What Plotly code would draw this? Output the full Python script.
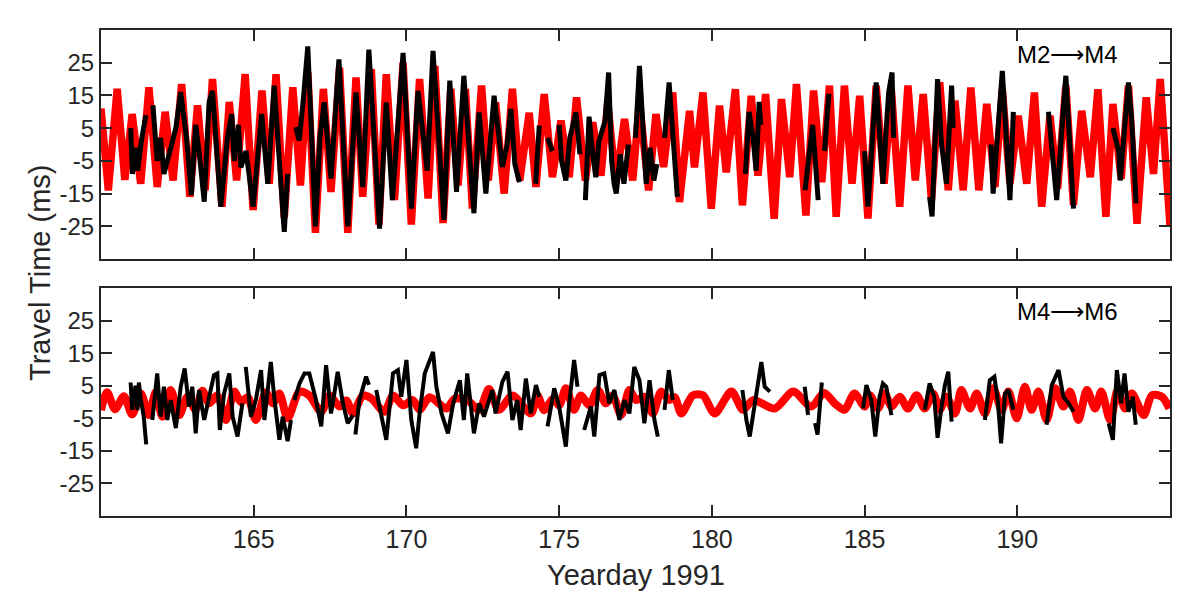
import plotly.graph_objects as go

FONT = "Liberation Sans, Arial, Helvetica, sans-serif"
INK = "#262626"
RED = "#ff0000"

# ---- M2 -> M4 : predicted (red) travel time ----
red_top_t = [160.0, 160.24, 160.53, 160.78, 161.02, 161.30, 161.57, 161.84, 162.10, 162.36,
             162.64, 162.91, 163.16, 163.41, 163.65, 163.96, 164.20, 164.44, 164.72, 164.98,
             165.27, 165.51, 165.73, 166.00, 166.28, 166.53, 166.77, 167.02, 167.28, 167.53,
             167.81, 168.08, 168.35, 168.57, 168.85, 169.10, 169.34, 169.61, 169.89, 170.16,
             170.43, 170.71, 170.93, 171.20, 171.45, 171.69, 171.93, 172.16, 172.46, 172.68,
             172.92, 173.20, 173.47, 173.71, 174.02, 174.24, 174.51, 174.78, 175.06, 175.33,
             175.57, 175.86, 176.10, 176.37, 176.59, 176.86, 177.14, 177.41, 177.63, 177.93,
             178.17, 178.42, 178.72, 178.94, 179.27, 179.43, 179.71, 179.98, 180.25, 180.47,
             180.77, 181.00, 181.29, 181.51, 181.76, 182.04, 182.28, 182.55, 182.77, 183.08,
             183.33, 183.60, 183.85, 184.07, 184.34, 184.59, 184.84, 185.11, 185.38, 185.64,
             185.88, 186.15, 186.42, 186.66, 186.92, 187.19, 187.46, 187.74, 187.96, 188.23,
             188.48, 188.74, 189.00, 189.27, 189.51, 189.76, 190.03, 190.31, 190.56, 190.80,
             191.07, 191.32, 191.59, 191.84, 192.11, 192.39, 192.64, 192.90, 193.13, 193.40,
             193.64, 193.92, 194.22, 194.46, 194.68, 195.0]
red_top_v = [11, -14, 17, -10.8, 9.3, -12, 17.5, -13, 10, -11,
             18.5, -16, 12, -14, 20, -19, 13, -11, 21.5, -20,
             16.5, -12, 21.5, -22.5, 17.5, -12.5, 22, -27, 17, -14.5,
             23.5, -27, 20.5, -16, 23, -24.5, 21.5, -17, 25, -24.5,
             20, -16.5, 24, -24, 17, -12.5, 17, -19.6, 18, -11,
             12.9, -15, 17, -11, 9.7, -13, 15.4, -10, 7.3, -10,
             14.4, -11, 6.8, -9.5, 12.9, -12, 7.8, -11, 12.9, -14,
             9.3, -6.9, 15.9, -17.6, 10.3, -7, 15.9, -19.6, 11.9, -8.5,
             16.9, -18.6, 14.9, -9.5, 15.4, -22.7, 13.9, -10, 18.5, -21.7,
             16.5, -11.5, 18, -22.1, 18, -12, 14.9, -22.6, 18, -12,
             16.4, -19, 18, -11, 15.4, -17, 19, -14, 13.4, -14,
             17.4, -14, 12.4, -13, 16.9, -12, 8.8, -12, 15.9, -19,
             8.8, -13.5, 18, -18.5, 10.3, -10, 16.9, -22.1, 12.4, -10.5,
             18, -24.2, 14.4, -9, 20, -25]

# measured (black) travel times, one list of (day, ms) pairs per record
black_top = [
    [(160.97, 5), (161.03, -9), (161.12, -1), (161.2, -8), (161.32, 1), (161.47, 9)],
    [(161.70, 12), (161.84, -5), (161.95, 2), (162.06, -9), (162.23, -3), (162.45, 5),
     (162.61, 16), (162.80, 2), (162.96, -15.5), (163.10, 6), (163.21, -2), (163.38, -17.5),
     (163.54, 13), (163.65, 16.4), (163.92, -19), (164.14, 2), (164.28, 9.3), (164.36, -5),
     (164.50, 6), (164.58, -7), (164.75, -2), (164.98, -19), (165.26, 9.3), (165.46, -12),
     (165.67, 18), (166.0, -26.7), (166.11, -9)],
    [(166.38, 5.3), (166.49, 1.2), (166.63, 14.4), (166.77, 30), (167.02, -25), (167.17, 2.2),
     (167.31, 12.9), (167.53, -10.4), (167.79, 26), (168.08, -25), (168.35, 15.9), (168.57, -13),
     (168.77, 29), (169.12, -25.7), (169.34, 12.9), (169.54, -17), (169.89, 28), (170.16, -19.6),
     (170.38, 16.4), (170.54, 2.2), (170.68, -8), (170.87, 28.6), (171.23, -23), (171.42, 19.5),
     (171.64, -14.5), (171.88, 21), (172.21, -21), (172.38, 9.8), (172.60, -15), (172.87, 14.9),
     (173.05, -2), (173.14, -6.9), (173.30, 0), (173.42, 10.9), (173.55, -6), (173.70, -11.5)],
    [(174.23, -12), (174.35, 5.8)],
    [(174.62, 2), (174.78, -2)],
    [(175.0, 6), (175.08, -5), (175.22, -11), (175.35, 2), (175.55, 9.8), (175.68, -3)],
    [(175.86, -17), (175.98, 8.5), (176.1, -3), (176.2, -10), (176.3, 1), (176.5, 7),
     (176.62, 22), (176.72, -5), (176.8, -12), (176.87, -15), (177.0, -3), (177.12, -12),
     (177.27, 0)],
    [(177.5, 2), (177.63, 24), (177.85, -12), (177.98, -1), (178.1, -11), (178.2, -6)],
    [(178.45, 2), (178.6, 19), (178.87, -16)],
    [(181.1, -9), (181.22, 10), (181.35, 2), (181.45, -8), (181.55, 13), (181.6, 6)],
    [(183.05, -14), (183.2, -3), (183.3, 6), (183.48, -17)],
    [(183.69, -2), (183.83, 15.5)],
    [(185.0, -2), (185.11, -19), (185.38, 19), (185.6, -12), (185.71, 5), (185.79, 16),
     (185.9, 22), (185.95, 2)],
    [(187.13, -16), (187.21, -22), (187.39, 20), (187.52, 0), (187.68, -12), (187.85, 18),
     (187.9, 5)],
    [(189.14, 0), (189.21, -15), (189.51, 22.5), (189.76, -17), (189.87, 10)],
    [(191.02, 10), (191.24, -10), (191.29, -17), (191.59, 21), (191.84, -19.6)],
    [(193.13, 5), (193.32, -2), (193.37, -11), (193.64, 19), (193.75, 7), (193.89, -18)],
]

# ---- M4 -> M6 ----
red_bot_t = [160.0, 160.2, 160.46, 160.75, 161.02, 161.3, 161.57, 161.79, 162.01, 162.28,
             162.56, 162.83, 163.1, 163.32, 163.54, 163.81, 164.09, 164.36, 164.58, 164.8,
             165.07, 165.4, 165.62, 165.84, 166.11, 166.5, 166.82, 167.21, 167.48, 167.81,
             168.03, 168.25, 168.57, 168.85, 169.28, 169.56, 169.89, 170.21, 170.43, 170.76,
             171.31, 171.58, 172.0, 172.38, 172.7, 173.03, 173.47, 174.07, 174.29, 174.51,
             174.8, 175.0, 175.22, 175.49, 175.71, 175.99, 176.26, 176.53, 176.75, 177.03,
             177.3, 177.52, 177.79, 178.07, 178.34, 178.61, 178.78, 179.0, 179.38, 179.71,
             180.09, 180.64, 181.02, 181.35, 182.06, 182.66, 183.25, 183.68, 184.02, 184.34,
             184.67, 185.0, 185.17, 185.44, 185.66, 185.88, 186.15, 186.42, 186.7, 186.97,
             187.24, 187.46, 187.68, 187.96, 188.17, 188.45, 188.67, 188.94, 189.21, 189.49,
             189.71, 189.98, 190.25, 190.47, 190.69, 190.96, 191.24, 191.51, 191.73, 192.0,
             192.28, 192.55, 192.75, 193.04, 193.29, 193.53, 193.75, 194.14, 194.41, 194.74,
             194.98]
red_bot_v = [-2.5, 3, -2.2, 1.8, -3.8, 2.6, -4, 3, -4.5, 3.7,
             -4, 1.6, -2.4, 3.5, -0.4, 2, -5.5, 3.2, 0, 1.5,
             -5.5, 2.9, -0.4, 2.6, -5, 3.2, 2, -3, 2, -1.4,
             0.5, -3.5, 2, 1.1, -3, 2, -1, 0.6, -2.4, 1.5,
             -2, 1, 0.5, -2.4, 4, -2.4, 2, -3.5, 2, -2.5,
             1, -1, 4.2, -2.4, 2, -1, 3.7, -0.4, 2, -4,
             3.7, 0.6, 1.6, -3.5, 3.2, 0.6, 1.5, -3.5, 2.1, 2.1,
             -3.5, 3.2, -2.4, 0.6, -2, 3.2, -1.4, 2.8, -0.4, -2.4,
             2.6, -1.4, 2.1, -2, 2.6, -1.4, 1.6, -2, 2.1, -2,
             2.6, -2.4, 1.6, -3.5, 3.7, -2, 2.6, -3.5, 4.2, -2.4,
             3.2, -5, 4.7, -2.4, 3.2, -5.5, 4.2, -1.4, 3.2, -5.5,
             3.7, -2, 3.2, -5.5, 3.7, -2, 2.6, -4, 2.1, 1.6,
             -2]

black_bot = [
    [(160.97, 6), (161.02, -2.4), (161.13, 5), (161.19, -2.5), (161.24, 6), (161.3, 1),
     (161.4, -4.5), (161.48, -13)],
    [(161.68, -5.5), (161.84, 8.8), (161.95, -4.5), (162.06, 4.7), (162.17, -5.5), (162.28, 0.6),
     (162.45, -8), (162.61, 4.7), (162.74, 10.3), (162.88, -1.4), (162.99, 4.7), (163.10, -9.6),
     (163.21, 3.7), (163.38, -5.5), (163.54, 1.6), (163.70, 8.3), (163.81, 8.8), (163.89, -8.6),
     (164.03, 2.6), (164.20, 8.8), (164.31, -4.5), (164.47, -10.6), (164.63, -0.4)],
    [(164.74, 10.8), (164.91, -4.5), (165.07, 0.6), (165.24, 9.8), (165.35, -5.5), (165.46, 4.7),
     (165.56, 12.3), (165.67, 1.6), (165.84, -11.6), (165.95, -4.5), (166.11, -12), (166.22, -5.5)],
    [(166.33, 0.6), (166.50, 5.7), (166.66, 8.8), (166.82, 8.8), (167.04, 0.6), (167.21, -7.5),
     (167.37, 11.3), (167.53, -3.5), (167.64, 2.6), (167.75, 9.3), (167.92, -0.4), (168.08, -6.5),
     (168.25, -4)],
    [(168.33, -10), (168.46, 0.6), (168.68, 7.8), (168.77, 5.3)],
    [(169.01, 3.7), (169.34, -11.6), (169.56, 8.8), (169.72, 9.8), (169.83, 1.6), (170.0, 12.9),
     (170.16, -5.5), (170.32, -14.2), (170.43, -3.5), (170.60, 8.8), (170.87, 15.4), (170.98, 4.7),
     (171.15, -3.5), (171.36, -9.6), (171.53, -0.4), (171.75, 6.7), (171.88, -5.5), (171.99, 8.8),
     (172.21, -9.6), (172.38, -0.4), (172.54, -4.5), (172.81, 3.7), (172.92, -3.5), (173.14, 6.2),
     (173.31, 9.3), (173.47, -5.5), (173.63, 0.6), (173.74, -8.6), (173.91, 7.2), (174.07, -3.5),
     (174.24, 5.2), (174.35, 1.6)],
    [(174.62, -7.5), (174.84, 4.2), (175.0, -1.4), (175.22, -13.7), (175.33, -0.4), (175.49, 12.9),
     (175.6, 4.7)],
    [(175.82, -8.6), (176.04, -1.4), (176.15, -10.6), (176.32, 8.3), (176.48, 8.8), (176.64, -0.4),
     (176.81, 3.7), (176.97, -5.5), (177.14, 0.6), (177.30, -3.5), (177.46, 10.8), (177.63, 6.7),
     (177.79, -6.5), (177.96, 6.7), (178.12, -5.5), (178.23, -10.6)],
    [(178.45, -2.4), (178.59, 9.8), (178.72, 0.6)],
    [(181.0, 3.7), (181.13, -5.5), (181.24, -10.6), (181.40, -0.4), (181.62, 12.3), (181.73, 4.7),
     (181.90, 3.2)],
    [(183.04, 4.7), (183.15, -4)],
    [(183.38, -6.5), (183.46, -10), (183.6, 6)],
    [(184.95, -2), (185.06, 5.2), (185.22, 0.6), (185.35, -10.6), (185.49, 1.6), (185.60, 5.7),
     (185.71, 4.7), (185.88, -4)],
    [(186.97, -2.4), (187.13, 5.7), (187.28, 1.6), (187.39, -11), (187.52, -1.4), (187.63, 5.2),
     (187.74, 9.3), (187.85, -6)],
    [(188.94, -5.5), (189.10, 6.7), (189.25, 7.8), (189.36, 0.6), (189.47, -12.7), (189.60, 2.6),
     (189.71, 3.7), (189.87, -2.4)],
    [(190.96, -7), (191.13, 5.2), (191.35, 9.8), (191.51, 1.6), (191.68, -0.4), (191.84, -3)],
    [(192.99, -6.5), (193.13, -11.6), (193.26, 9.8), (193.40, -0.4), (193.51, 8.8), (193.64, -3),
     (193.78, 1.6), (193.88, -7)],
]

x_ticks = [165, 170, 175, 180, 185, 190]
y_ticks = [-25, -15, -5, 5, 15, 25]
y_labels = ["-25", "-15", "-5", "5", "15", "25"]   # plain hyphen, as in the original


def join_segments(segments):
    # one trace, gaps between records marked with None
    xs, ys = [], []
    for seg in segments:
        for t, v in seg:
            xs.append(t)
            ys.append(v)
        xs.append(None)
        ys.append(None)
    return xs, ys


fig = go.Figure()

fig.add_trace(go.Scatter(x=red_top_t, y=red_top_v, mode="lines",
                         line=dict(color=RED, width=7.5), xaxis="x", yaxis="y"))
bx, by = join_segments(black_top)
fig.add_trace(go.Scatter(x=bx, y=by, mode="lines", connectgaps=False,
                         line=dict(color="black", width=5), xaxis="x", yaxis="y"))

fig.add_trace(go.Scatter(x=red_bot_t, y=red_bot_v, mode="lines",
                         line=dict(color=RED, width=8, shape="spline", smoothing=0.8),
                         xaxis="x2", yaxis="y2"))
bx, by = join_segments(black_bot)
fig.add_trace(go.Scatter(x=bx, y=by, mode="lines", connectgaps=False,
                         line=dict(color="black", width=4), xaxis="x2", yaxis="y2"))

axis_common = dict(showline=True, mirror="ticks", linecolor=INK, linewidth=2,
                   ticks="inside", ticklen=11, tickwidth=2, tickcolor=INK,
                   showgrid=False, zeroline=False)
xfont = dict(family=FONT, size=25, color=INK)
yfont = dict(family=FONT, size=24, color=INK)
arrow = "\u27f6"

# the page body adds an 8 px offset, so the figure is 8 px smaller and the
# margins are shifted to keep the plot boxes where they are in the original
fig.update_layout(
    width=1192, height=596,
    margin=dict(l=93, r=30, t=22, b=88),
    paper_bgcolor="white", plot_bgcolor="white",
    showlegend=False,
    xaxis=dict(axis_common, range=[160, 195], tickvals=x_ticks, showticklabels=False,
               anchor="y", domain=[0, 1]),
    yaxis=dict(axis_common, range=[-35, 35], tickvals=y_ticks, ticktext=y_labels,
               tickfont=yfont, anchor="x", domain=[0.5288, 1]),
    xaxis2=dict(axis_common, range=[160, 195], tickvals=x_ticks, tickfont=xfont,
                anchor="y2", domain=[0, 1]),
    yaxis2=dict(axis_common, range=[-35, 35], tickvals=y_ticks, ticktext=y_labels,
                tickfont=yfont, anchor="x2", domain=[0, 0.469]),
    annotations=[
        dict(text="M2" + arrow + "M4", xref="paper", yref="paper", x=0.904, y=0.9506,
             xanchor="center", yanchor="middle", showarrow=False,
             font=dict(family=FONT, size=24, color="black")),
        dict(text="M4" + arrow + "M6", xref="paper", yref="paper", x=0.904, y=0.4218,
             xanchor="center", yanchor="middle", showarrow=False,
             font=dict(family=FONT, size=24, color="black")),
        dict(text="Yearday 1991", xref="paper", yref="paper", x=0.5, y=-0.1214,
             xanchor="center", yanchor="middle", showarrow=False,
             font=dict(family=FONT, size=29, color=INK)),
        dict(text="Travel Time (ms)", xref="paper", yref="paper", x=-0.0571, y=0.5,
             xanchor="center", yanchor="middle", showarrow=False, textangle=-90,
             font=dict(family=FONT, size=29, color=INK)),
    ],
)

fig.write_html("out.html")
